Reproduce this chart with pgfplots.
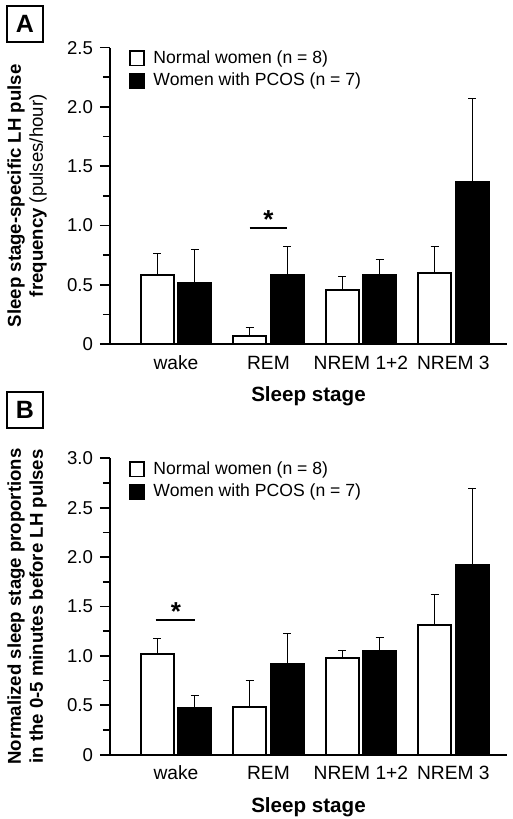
\documentclass[border=0pt]{standalone}
\usepackage{fontspec}
\setmainfont{Liberation Sans}
\usepackage{pgfplots}
\pgfplotsset{compat=1.18}
\begin{document}
\begin{tikzpicture}
\useasboundingbox (0,0) rectangle (256.5pt,-409.5pt);
\pgfplotsset{
  panel/.style={
    scale only axis, width=198.5pt, height=148.2pt,
    anchor=south west,
    axis x line*=bottom, axis y line*=left,
    axis line style={line width=0.85pt, black},
    xmin=-0.714, xmax=3.58, ymin=0,
    xtick={0,1,2,3},
    xticklabels={wake,REM,NREM 1+2,NREM 3},
    xtick style={draw=none},
    xticklabel style={anchor=base, yshift=-7.6pt, font=\fontsize{9.6}{11}\selectfont},
    yticklabel style={font=\fontsize{9.3}{11}\selectfont},
    tick align=outside,
    major tick length=5pt, minor tick length=3.5pt,
    ytick style={line width=0.85pt, black},
    minor y tick style={line width=0.85pt, black},
    ybar, bar width=16.5pt,
    xlabel={Sleep stage},
    xlabel style={at={(axis description cs:0.5,-0.176)}, anchor=center, font=\bfseries\fontsize{10.3}{12}\selectfont},
    ylabel style={at={(axis description cs:-0.209,0.5)}, anchor=center, align=center, font=\fontsize{9.3}{11}\selectfont},
    legend style={at={(axis description cs:0.0466,0.995)}, anchor=north west, draw=none, fill=none,
      inner sep=0pt, row sep=2.2pt, font=\fontsize{8.8}{10}\selectfont,
      nodes={inner xsep=4.3pt, inner ysep=0pt, text height=7pt, text depth=2pt}},
    legend cell align=left,
    legend image code/.code={\draw[##1, line width=0.8pt] (0pt,-3.6pt) rectangle (7.2pt,3.6pt);},
  },
  errs/.style={
    error bars/y dir=plus, error bars/y explicit,
    error bars/error bar style={line width=0.45pt, black},
    error bars/error mark options={rotate=90, mark size=2pt, line width=0.45pt, black},
  },
  whitebar/.style={fill=white, draw=black, line width=1pt, bar shift=-9.4pt, errs},
  blackbar/.style={fill=black, draw=black, line width=1pt, bar shift=9.4pt, errs},
}
% Panel A
\begin{axis}[panel, at={(55pt,-172pt)}, ymax=2.5,
  ytick={0,0.5,1,1.5,2,2.5}, yticklabels={0,0.5,1.0,1.5,2.0,2.5},
  minor ytick={0.25,0.75,1.25,1.75,2.25},
  ylabel={\textbf{Sleep stage-specific LH pulse}\\\textbf{frequency} (pulses/hour)}]
\addplot[whitebar] coordinates {(0,0.582) +- (0,0.178) (1,0.070) +- (0,0.068) (2,0.453) +- (0,0.117) (3,0.600) +- (0,0.220)};
\addplot[blackbar] coordinates {(0,0.515) +- (0,0.285) (1,0.580) +- (0,0.240) (2,0.580) +- (0,0.130) (3,1.367) +- (0,0.703)};
\legend{Normal women (n = 8),Women with PCOS (n = 7)}
\draw[line width=1pt] (axis cs:0.795,0.981) -- (axis cs:1.205,0.981);
\node[anchor=base, font=\bfseries\fontsize{13}{13}\selectfont, inner sep=0pt] at (axis cs:1,0.975) {*};
\end{axis}
% Panel B
\begin{axis}[panel, at={(55pt,-377.35pt)}, ymax=3.0,
  ytick={0,0.5,1,1.5,2,2.5,3}, yticklabels={0,0.5,1.0,1.5,2.0,2.5,3.0},
  minor ytick={0.25,0.75,1.25,1.75,2.25,2.75},
  ylabel={\textbf{Normalized sleep stage proportions}\\\textbf{in the 0-5 minutes before LH pulses}}]
\addplot[whitebar] coordinates {(0,1.019) +- (0,0.156) (1,0.486) +- (0,0.263) (2,0.975) +- (0,0.078) (3,1.310) +- (0,0.313)};
\addplot[blackbar] coordinates {(0,0.476) +- (0,0.121) (1,0.918) +- (0,0.307) (2,1.046) +- (0,0.142) (3,1.917) +- (0,0.783)};
\legend{Normal women (n = 8),Women with PCOS (n = 7)}
\draw[line width=1pt] (axis cs:-0.22,1.367) -- (axis cs:0.20,1.367);
\node[anchor=base, font=\bfseries\fontsize{13}{13}\selectfont, inner sep=0pt] at (axis cs:0,1.36) {*};
\end{axis}
\node[draw, line width=1pt, minimum size=18.2pt, inner sep=0pt, font=\bfseries\fontsize{12.5}{13}\selectfont] at (12.5pt,-12.1pt) {A};
\node[draw, line width=1pt, minimum size=18.2pt, inner sep=0pt, font=\bfseries\fontsize{12.5}{13}\selectfont] at (12.5pt,-205pt) {B};
\end{tikzpicture}
\end{document}
